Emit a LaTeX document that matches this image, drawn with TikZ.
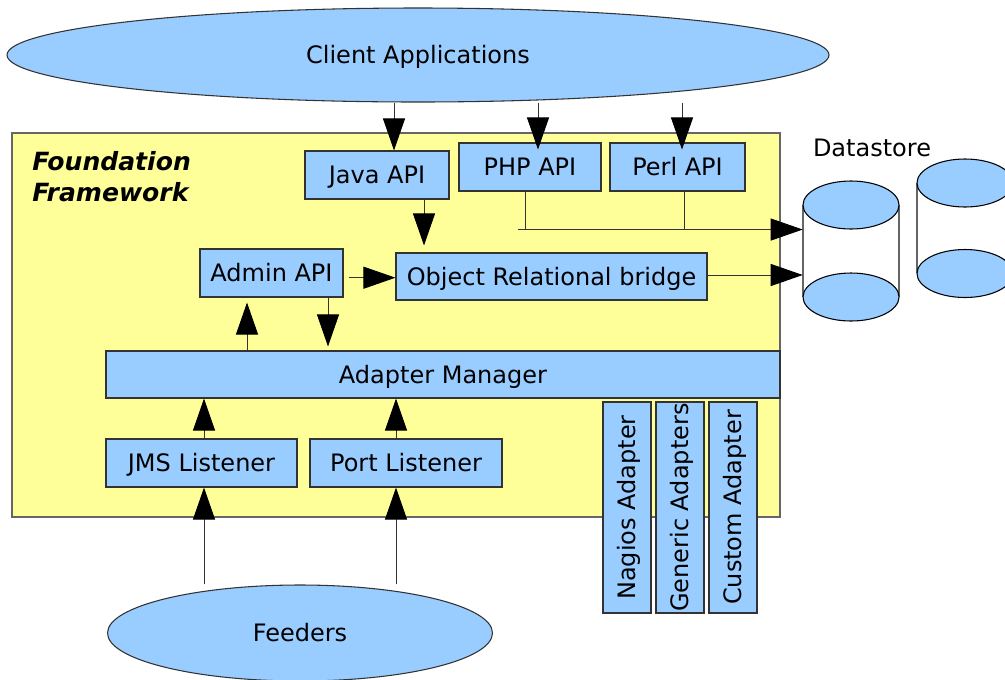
\documentclass[tikz,border=0pt]{standalone}
\usepackage{fontspec}
\setmainfont{DejaVu Sans}
\usetikzlibrary{arrows.meta,calc,shapes.geometric}

\definecolor{boxblue}{RGB}{153,204,255}
\definecolor{paleyellow}{RGB}{255,255,153}
\definecolor{edgegray}{RGB}{51,51,51}
\definecolor{framegray}{RGB}{102,102,102}

\tikzset{
  lbl/.style={font=\fontsize{18}{21.6}\selectfont},
  box/.style={lbl, draw=edgegray, line width=0.8pt, fill=boxblue, inner sep=0pt,
    minimum height=36pt, text height=14.5pt, text depth=1.4pt},
  vbox/.style={box, rotate=90, minimum width=158.25pt, minimum height=36pt},
  ell/.style={lbl, ellipse, draw=edgegray, line width=0.8pt, fill=boxblue, inner sep=0pt,
    text height=14.5pt, text depth=1.4pt},
  frame/.style={draw=framegray, line width=0.8pt, fill=paleyellow, inner sep=0pt},
  wire/.style={draw=edgegray, line width=0.75pt},
  arr/.style={wire, -{Triangle[length=24pt, width=16.5pt, color=black]}},
  cylface/.style={draw=black, line width=0.8pt, fill=boxblue},
  cylside/.style={draw=framegray, line width=0.9pt},
}

\begin{document}
\begin{tikzpicture}[x=0.75pt, y=-0.75pt]
  \useasboundingbox (0,0) rectangle (1005,679);

  % framework area
  \node[frame, minimum width=576pt, minimum height=288pt] (frame) at (396,325) {};
  \node[anchor=north west, align=left, inner sep=0pt,
        font=\fontsize{18.8}{23.25}\selectfont\bfseries\itshape] (title) at (32,151)
        {Foundation\\Framework};

  % outer ellipses
  \node[ell, minimum width=616.5pt, minimum height=70.5pt] (client) at (418,55) {Client Applications};
  \node[ell, minimum width=288.75pt, minimum height=72pt] (feeders) at (300,633) {Feeders};

  % API boxes
  \node[box, minimum width=108pt] (java) at (377,175) {Java API};
  \node[box, minimum width=106.5pt] (php) at (530,167) {PHP API};
  \node[box, minimum width=101.25pt] (perl) at (677.5,167) {Perl API};
  \node[box, minimum width=233.25pt, minimum height=35.25pt] (orb) at (551.5,276.5) {Object Relational bridge};
  \node[box, minimum width=107.25pt] (admin) at (271.5,273) {Admin API};

  % adapter manager and listeners
  \node[box, minimum width=505.5pt, minimum height=35.25pt] (am) at (443,374.5) {Adapter Manager};
  \node[box, minimum width=143.25pt] (jms) at (201.5,463) {JMS Listener};
  \node[box, minimum width=144pt] (port) at (406,463) {Port Listener};

  % adapters
  \node[vbox] (nagios) at (627,507.5) {Nagios Adapter};
  \node[vbox] (generic) at (680,507.5) {Generic Adapters};
  \node[vbox] (custom) at (733,507.5) {Custom Adapter};

  % datastore cylinders
  \node[lbl, inner sep=0pt] (dslabel) at (872,148) {Datastore};
  \node[inner sep=0pt, minimum width=72pt, minimum height=105pt] (ds1) at (851,251) {};
  \draw[cylside] (803,205) -- (803,297) (899,205) -- (899,297);
  \draw[cylface] (851,297) ellipse [x radius=36pt, y radius=18pt];
  \draw[cylface] (851,205) ellipse [x radius=36pt, y radius=18pt];
  \draw[cylside] (917,183) -- (917,273) (1013,183) -- (1013,273);
  \draw[cylface] (965,273.5) ellipse [x radius=36pt, y radius=18pt];
  \draw[cylface] (965,183) ellipse [x radius=36pt, y radius=18pt];

  % client applications to the APIs
  \coordinate (javaIn) at ($(java.north)+(17,0)$);
  \draw[arr] (javaIn |- client.south) -- (javaIn);
  \coordinate (phpIn) at ($(php.north)+(8,7)$);
  \draw[arr] (phpIn |- client.south) -- (phpIn);
  \coordinate (perlIn) at ($(perl.north)+(4.5,7)$);
  \draw[arr] (perlIn |- client.south) -- (perlIn);

  % Java API to the bridge
  \coordinate (javaOut) at ($(java.south)+(47,0)$);
  \coordinate (orbIn) at ($(orb.north)+(0,-7)$);
  \draw[arr] (javaOut) -- (javaOut |- orbIn);

  % PHP and Perl straight to the datastore
  \coordinate (phpOut) at ($(php.south)+(-5,0)$);
  \coordinate (perlOut) at ($(perl.south)+(6.5,0)$);
  \coordinate (bus) at ($(php.south)+(-12,38)$);
  \draw[wire] (phpOut) -- (phpOut |- bus);
  \draw[wire] (perlOut) -- (perlOut |- bus);
  \draw[arr] (bus) -- (bus -| ds1.west);

  % bridge to the datastore
  \coordinate (orbOut) at ($(orb.east)+(0,-1.5)$);
  \draw[arr] (orbOut) -- (orbOut -| ds1.west);

  % Admin API to the bridge
  \coordinate (adminOut) at ($(admin.east)+(5,4.7)$);
  \draw[arr] (adminOut) -- (adminOut -| orb.west);

  % Admin API and adapter manager
  \coordinate (adminUp) at ($(admin.south)+(-24.5,5)$);
  \draw[arr] (adminUp |- am.north) -- (adminUp);
  \coordinate (adminDown) at ($(admin.south)+(56.5,0)$);
  \coordinate (amIn) at ($(am.north)+(0,-4)$);
  \draw[arr] (adminDown) -- (adminDown |- amIn);

  % listeners to the adapter manager
  \coordinate (jmsTop) at ($(jms.north)+(2.5,0)$);
  \draw[arr] (jmsTop) -- (jmsTop |- am.south);
  \coordinate (portTop) at ($(port.north)+(-10,0)$);
  \draw[arr] (portTop) -- (portTop |- am.south);

  % feeders to the listeners
  \coordinate (jmsBot) at ($(jms.south)+(2.5,0)$);
  \draw[arr] (jmsBot |- feeders.north) -- (jmsBot);
  \coordinate (portBot) at ($(port.south)+(-10,0)$);
  \draw[arr] (portBot |- feeders.north) -- (portBot);
\end{tikzpicture}
\end{document}
